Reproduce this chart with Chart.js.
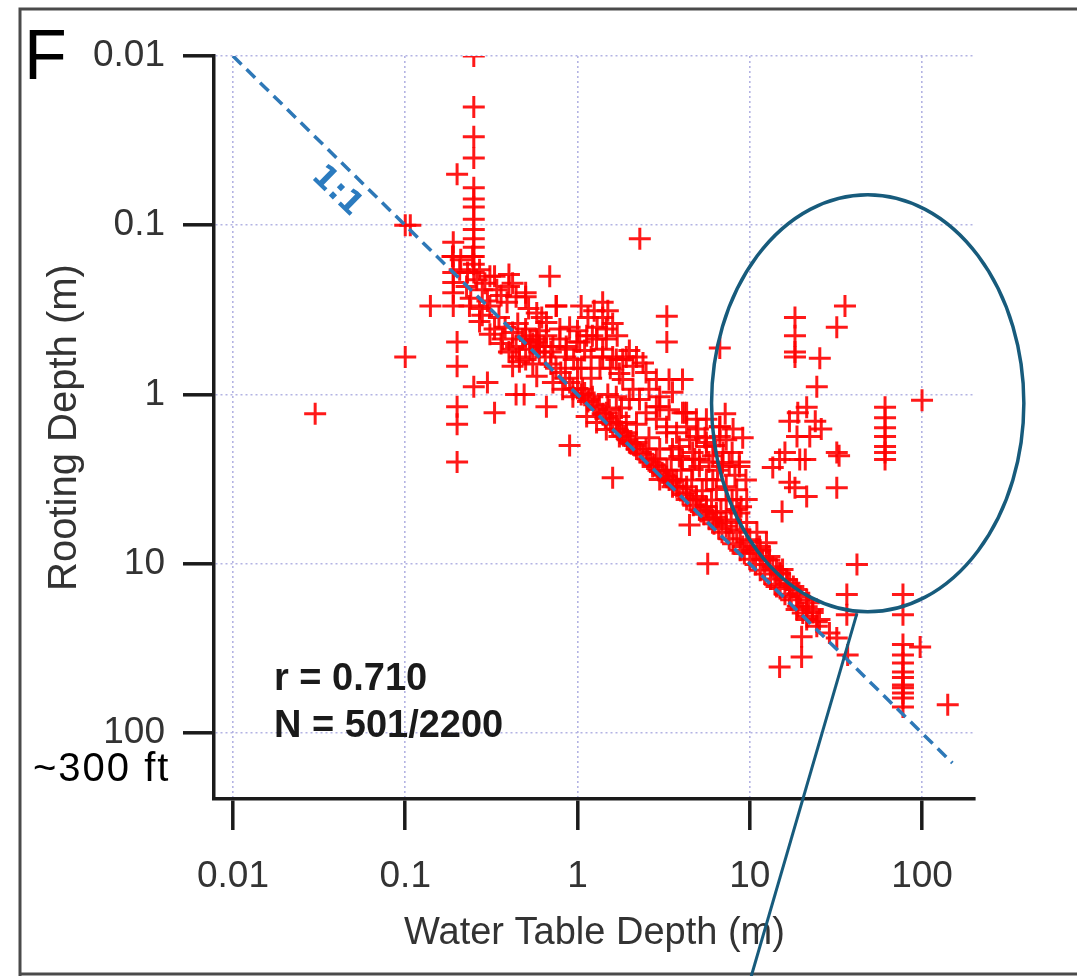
<!DOCTYPE html>
<html>
<head>
<meta charset="utf-8">
<title>Rooting depth vs water table depth</title>
<script src="https://cdn.jsdelivr.net/npm/chart.js@4.4.1/dist/chart.umd.min.js"></script>
<style>
  html, body { margin: 0; padding: 0; background: #ffffff; }
  #wrap { width: 1077px; height: 976px; position: relative; }
</style>
</head>
<body>
<div id="wrap">
  <canvas id="rootChart" width="1077" height="976"></canvas>
</div>
<script>
// axis ranges and decade ticks (metres)
const xRange = [0.00776, 203];
const yRange = [0.01, 245];
const xTicks = [0.01, 0.1, 1, 10, 100];
const yTicks = [0.01, 0.1, 1, 10, 100];

// 1:1 reference line
const oneToOne = [[0.01, 0.01], [150, 150]];
const ratioLabelAt = [0.05, 0.05];

// [water table depth, rooting depth] pairs
const shallowStrings = [
  [0.25, 0.01], [0.25, 0.02], [0.25, 0.03], [0.25, 0.04], [0.2, 0.05],
  [0.25, 0.06], [0.25, 0.07], [0.25, 0.078], [0.25, 0.092], [0.25, 0.106],
  [0.25, 0.12], [0.25, 0.135], [0.25, 0.153], [0.25, 0.17], [0.25, 0.19],
  [0.19, 0.126], [0.19, 0.153], [0.19, 0.19], [0.19, 0.25], [0.19, 0.3],
  [0.2, 0.49], [0.2, 0.68], [0.2, 1.18], [0.2, 1.5], [0.2, 2.5],
  [0.1, 0.1], [0.107, 0.1], [0.1, 0.6], [0.03, 1.3], [0.14, 0.3],
  [0.25, 0.9], [0.3, 0.85], [0.33, 1.28], [0.44, 1.0], [0.49, 1.0],
  [0.66, 1.18], [0.9, 2.0], [1.6, 3.1], [0.4, 0.195], [0.69, 0.2],
  [0.75, 0.3], [2.3, 0.12], [5.7, 10], [3.3, 0.345], [3.3, 0.49],
  [6.7, 0.53], [1.4, 0.285], [1.4, 0.35], [1.47, 0.41],
];

const aboveLine = [
  [0.188, 0.153], [0.246, 0.153], [0.207, 0.183], [0.27, 0.183], [0.31, 0.2],
  [0.19, 0.218], [0.227, 0.23], [0.28, 0.24], [0.34, 0.24], [0.4, 0.23],
  [0.236, 0.3], [0.27, 0.31], [0.31, 0.3], [0.39, 0.285], [0.44, 0.264],
  [0.5, 0.264], [0.42, 0.22], [0.5, 0.25], [0.27, 0.37], [0.33, 0.41],
  [0.42, 0.43], [0.5, 0.41], [0.58, 0.47], [0.4, 0.56], [0.46, 0.64],
  [0.5, 0.62], [0.42, 0.68], [0.55, 0.66], [0.62, 0.35], [0.58, 0.33],
  [0.52, 0.31], [0.367, 0.47], [0.42, 0.54], [0.46, 0.6], [0.53, 0.54],
  [0.58, 0.49], [0.66, 0.45], [0.79, 0.47], [0.86, 0.54], [0.99, 0.49],
  [1.13, 0.45], [1.29, 0.47], [1.4, 0.54], [1.6, 0.6], [1.83, 0.62],
  [2.1, 0.68], [0.755, 0.3], [0.66, 0.375], [0.79, 0.41], [0.6, 0.52],
  [0.72, 0.52], [0.86, 0.52], [1.03, 0.49], [1.22, 0.45], [1.47, 0.47],
  [1.4, 0.6], [1.68, 0.62], [1.92, 0.6], [2.5, 0.74], [2.87, 0.815],
  [3.4, 0.815], [4.07, 0.815], [2.6, 0.93], [3.0, 1.03], [3.56, 0.97],
  [1.83, 0.815], [2.1, 0.93], [2.29, 1.07], [2.5, 1.28], [2.87, 1.4],
  [3.29, 1.55], [3.76, 1.68], [4.3, 1.55], [4.9, 1.77], [5.6, 2.03],
  [6.1, 2.3], [4.66, 2.2], [5.1, 2.66], [3.9, 2.03], [3.4, 1.23],
  [3.0, 1.18], [4.3, 1.28], [5.6, 1.4], [6.7, 1.55], [7.3, 1.85],
  [7.9, 2.2], [8.7, 2.66], [6.9, 2.66], [6.1, 3.2], [7.3, 3.5],
  [2.87, 1.18], [4.07, 1.28], [4.9, 1.4], [3.29, 1.68], [4.47, 1.85],
  [5.6, 1.92], [6.7, 1.77], [3.9, 2.32], [5.1, 2.42], [6.95, 2.52],
  [9.1, 1.8], [8.7, 2.5], [8.4, 3.65], [4.19, 1.28], [6.7, 1.55],
  [0.21, 0.16], [0.23, 0.19], [0.26, 0.21], [0.29, 0.22], [0.33, 0.2],
  [0.36, 0.26], [0.3, 0.28], [0.24, 0.27], [0.28, 0.34], [0.35, 0.35],
  [0.38, 0.4], [0.31, 0.44], [0.45, 0.38], [0.48, 0.47], [0.53, 0.48],
  [0.6, 0.42], [0.64, 0.52], [0.7, 0.56], [0.36, 0.5], [0.44, 0.52],
  [1.05, 0.3], [1.15, 0.35], [1.25, 0.32], [1.3, 0.4], [1.5, 0.32],
  [1.6, 0.38], [1.7, 0.45], [1.2, 0.6], [1.35, 0.7], [1.55, 0.7],
  [1.75, 0.75], [2.0, 0.55], [2.2, 0.6], [2.4, 0.65], [0.9, 0.4],
  [1.0, 0.42], [1.1, 0.55], [0.95, 0.62], [1.05, 0.7], [0.85, 0.6],
  [5.0, 1.6], [5.5, 1.8], [6.2, 2.0], [7.0, 2.2], [7.6, 2.6],
  [8.2, 3.0], [6.5, 2.8], [5.8, 2.5], [4.8, 2.4], [7.9, 4.2],
  [8.9, 4.6], [9.5, 3.2], [8.0, 1.6], [7.2, 1.3],
];

const alongLine = [
  [0.58, 0.78], [0.72, 0.85], [0.82, 0.93], [0.94, 1.03], [1.07, 0.93],
  [1.22, 1.03], [1.34, 1.18], [1.53, 1.23], [1.75, 1.35], [1.92, 1.46],
  [1.68, 1.03], [2.0, 1.07], [1.47, 1.61], [1.75, 1.77], [2.0, 1.92],
  [2.2, 2.1], [1.13, 1.35], [1.29, 1.46], [0.94, 0.93], [1.17, 1.07],
  [1.47, 1.28], [1.68, 1.46], [1.92, 1.68], [2.2, 1.92], [2.5, 2.1],
  [2.87, 2.4], [3.3, 2.8], [3.76, 3.2], [4.3, 3.5], [4.9, 4.0],
  [5.6, 4.6], [6.4, 5.3], [3.0, 3.18], [3.56, 3.5], [4.3, 4.17],
  [5.1, 4.8], [6.1, 5.5], [7.3, 6.0], [8.7, 5.0], [9.6, 4.17],
  [2.73, 2.66], [3.29, 3.05], [3.76, 3.5], [4.3, 3.8], [4.9, 4.17],
  [5.6, 4.6], [6.4, 5.0], [7.3, 5.7], [8.4, 6.5], [9.6, 7.4],
  [11.0, 8.2], [12.5, 9.4], [14.3, 10.8], [16.4, 12.4], [18.7, 14.2],
  [21.4, 16.3], [23.2, 18.6], [3.56, 2.1], [4.07, 2.42], [4.66, 2.77],
  [5.6, 3.18], [6.4, 3.64], [7.3, 4.17], [8.4, 4.78], [9.6, 5.7],
  [11.0, 6.5], [12.5, 7.5], [4.47, 5.9], [9.1, 7.9], [10.4, 8.6],
  [11.9, 9.45], [13.6, 10.4], [14.9, 11.3], [16.4, 12.4], [17.9, 13.6],
  [19.6, 15.6], [21.4, 17.9], [23.2, 19.4], [25.4, 21.3], [11.4, 7.9],
  [13.0, 9.05], [15.5, 10.8], [14.3, 13.6], [17.0, 15.6], [18.7, 18.6],
  [21.4, 21.3], [24.5, 23.4],
  [0.5, 0.45], [0.55, 0.5], [0.6, 0.56], [0.65, 0.6], [0.7, 0.66],
  [0.75, 0.7], [0.8, 0.74], [0.85, 0.8], [0.9, 0.85], [1.0, 0.92],
  [1.05, 1.0], [1.1, 0.98], [1.15, 1.1], [1.25, 1.15], [1.3, 1.22],
  [1.4, 1.3], [1.45, 1.38], [1.55, 1.45], [1.6, 1.5], [1.7, 1.6],
  [1.8, 1.65], [1.85, 1.75], [1.95, 1.85], [2.05, 1.95], [2.15, 2.0],
  [2.3, 2.2], [2.4, 2.25], [2.55, 2.4], [2.65, 2.5], [2.8, 2.6],
  [2.95, 2.8], [3.1, 2.9], [3.2, 3.0], [3.4, 3.2], [3.6, 3.3],
  [3.9, 3.6], [4.1, 3.9], [4.5, 4.2], [4.7, 4.5], [5.2, 4.9],
  [5.4, 5.1], [5.8, 5.4], [6.2, 5.8], [6.6, 6.2], [6.9, 6.5],
  [7.6, 7.1], [8.0, 7.6], [8.8, 8.3], [9.3, 8.7], [10.0, 9.4],
  [10.8, 10.1], [11.5, 10.9], [12.2, 11.5], [13.2, 12.3], [14.0, 13.2],
  [15.0, 14.0], [16.0, 15.1], [17.4, 16.3], [19.0, 17.8], [20.3, 19.5],
  [1.0, 0.7], [1.2, 0.8], [1.5, 1.0], [1.8, 1.2], [2.2, 1.5],
  [2.6, 1.8], [3.0, 2.1], [3.5, 2.4], [4.0, 2.8], [4.6, 3.2],
  [5.3, 3.7], [6.0, 4.2], [6.8, 4.9], [7.8, 5.5], [8.8, 6.3],
  [10, 7.2], [11.5, 8.3], [13, 9.5], [15, 11.5], [17, 13],
  [19, 15], [22, 17],
];

const ellipseGroup = [
  [18.3, 0.35], [18.3, 0.45], [18.3, 0.56], [18.3, 0.6], [35.7, 0.3],
  [32, 0.4], [25.5, 0.61], [24.5, 0.9], [100, 1.08],
  [61, 1.19], [61, 1.37], [61, 1.57], [61, 1.77], [61, 2.03], [61, 2.2], [61, 2.42],
  [21.4, 1.19], [19, 1.28], [17, 1.44], [24, 1.44], [26, 1.6],
  [18.8, 1.77], [22.3, 1.77], [16, 2.2], [19.5, 2.42], [21, 2.42],
  [32, 2.2], [33, 2.3], [13.6, 2.7], [14.9, 2.42], [17, 3.3],
  [18.3, 3.55], [21.4, 4.0], [32, 3.55], [15.4, 4.9],
];

const deepGroup = [
  [41.9, 10.1], [36.6, 15.2], [36.6, 20], [77.5, 15.2], [77.5, 20],
  [77.5, 30], [77.5, 34.5], [77.5, 38.5], [77.5, 43.5], [77.5, 47],
  [77.5, 52], [77.5, 54], [77.5, 58], [77.5, 62], [77.5, 70],
  [97.5, 31], [141, 68], [14.9, 40.7], [20, 35.5], [20, 27],
  [29, 25.6], [32, 27.4], [37, 34.5], [21.5, 20.5], [24.5, 22],
];

// highlighted region and its callout, in data units
const highlightEllipse = { xMin: 6.0, xMax: 390, yMin: 0.066, yMax: 19.2 };
const calloutLine = [[41.9, 19.6], [10.2, 2730]];

const FONT = '"Liberation Sans", Arial, Helvetica, sans-serif';
const toPoints = (pairs) => pairs.map(([x, y]) => ({ x, y }));

const annotationLayer = {
  id: "annotationLayer",
  afterDraw(chart) {
    const { ctx } = chart;
    const xs = chart.scales.x;
    const ys = chart.scales.y;
    const px = (v) => xs.getPixelForValue(v);
    const py = (v) => ys.getPixelForValue(v);

    ctx.save();

    // page frame
    ctx.strokeStyle = "#4a4a4a";
    ctx.lineWidth = 3;
    ctx.beginPath();
    ctx.moveTo(20, 976);
    ctx.lineTo(20, 9);
    ctx.lineTo(1077, 9);
    ctx.stroke();
    ctx.beginPath();
    ctx.moveTo(20, 974);
    ctx.lineTo(1077, 974);
    ctx.stroke();

    // 1:1 label along the dashed line
    const [a, b] = oneToOne;
    const ang = Math.atan2(py(b[1]) - py(a[1]), px(b[0]) - px(a[0]));
    const off = 24;
    ctx.save();
    ctx.translate(px(ratioLabelAt[0]) - Math.sin(ang) * off, py(ratioLabelAt[1]) + Math.cos(ang) * off);
    ctx.rotate(ang);
    ctx.fillStyle = "#2b7bbf";
    ctx.font = 'bold 32px "DejaVu Sans", sans-serif';
    ctx.textAlign = "center";
    ctx.textBaseline = "middle";
    ctx.fillText("1:1", 0, 0);
    ctx.restore();

    // ellipse around the deep-rooted outliers
    const ex1 = px(highlightEllipse.xMin), ex2 = px(highlightEllipse.xMax);
    const ey1 = py(highlightEllipse.yMin), ey2 = py(highlightEllipse.yMax);
    ctx.strokeStyle = "#175b7c";
    ctx.lineWidth = 3.5;
    ctx.beginPath();
    ctx.ellipse((ex1 + ex2) / 2, (ey1 + ey2) / 2, (ex2 - ex1) / 2, (ey2 - ey1) / 2, 0, 0, Math.PI * 2);
    ctx.stroke();

    ctx.lineWidth = 3;
    ctx.beginPath();
    ctx.moveTo(px(calloutLine[0][0]), py(calloutLine[0][1]));
    ctx.lineTo(px(calloutLine[1][0]), py(calloutLine[1][1]));
    ctx.stroke();

    // panel letter and stats
    ctx.fillStyle = "#000000";
    ctx.textAlign = "left";
    ctx.textBaseline = "alphabetic";
    ctx.font = `70px ${FONT}`;
    ctx.fillText("F", 24, 79);

    ctx.fillStyle = "#1a1a1a";
    ctx.font = `bold 38px ${FONT}`;
    ctx.fillText("r = 0.710", 274, 690);
    ctx.fillText("N = 501/2200", 274, 737);

    ctx.fillStyle = "#000000";
    ctx.font = `40px ${FONT}`;
    ctx.letterSpacing = "2px";
    ctx.fillText("~300 ft", 33, 781);
    ctx.letterSpacing = "0px";

    ctx.restore();
  },
};

const gridStyle = {
  color: "rgba(175, 175, 225, 0.95)",
  lineWidth: 1.6,
  drawTicks: true,
  tickLength: 31,
  tickWidth: 3.5,
  tickColor: "#1a1a1a",
};
const borderStyle = { display: true, color: "#1a1a1a", width: 3.5, dash: [2, 3] };
const tickFont = { family: FONT, size: 37, lineHeight: 1.2 };

new Chart(document.getElementById("rootChart"), {
  type: "scatter",
  data: {
    datasets: [
      {
        type: "line",
        label: "1:1",
        data: toPoints(oneToOne),
        borderColor: "#2e78b7",
        borderWidth: 3.5,
        borderDash: [12, 7],
        pointRadius: 0,
        fill: false,
        tension: 0,
      },
      {
        label: "Rooting depth",
        data: toPoints([...shallowStrings, ...aboveLine, ...alongLine, ...ellipseGroup, ...deepGroup]),
        pointStyle: "cross",
        pointRadius: 11,
        borderColor: "rgba(255, 0, 0, 0.9)",
        backgroundColor: "rgba(255, 0, 0, 0.9)",
        borderWidth: 3,
      },
    ],
  },
  options: {
    responsive: false,
    devicePixelRatio: 1,
    animation: false,
    events: [],
    layout: { padding: { left: 0, top: 56, right: 102, bottom: 0 } },
    plugins: {
      legend: { display: false },
      tooltip: { enabled: false },
    },
    scales: {
      x: {
        type: "logarithmic",
        position: "bottom",
        min: xRange[0],
        max: xRange[1],
        afterBuildTicks: (scale) => {
          scale.ticks = xTicks.map((value) => ({ value }));
        },
        afterFit: (scale) => {
          scale.height = 177;
        },
        ticks: {
          autoSkip: false,
          maxRotation: 0,
          padding: 25,
          color: "#333333",
          font: tickFont,
          callback: (v) => String(v),
        },
        grid: gridStyle,
        border: borderStyle,
        title: {
          display: true,
          text: "Water Table Depth (m)",
          color: "#333333",
          font: { family: FONT, size: 38, lineHeight: 1 },
          padding: { top: 0, bottom: 23 },
        },
      },
      y: {
        type: "logarithmic",
        reverse: true,
        min: yRange[0],
        max: yRange[1],
        afterBuildTicks: (scale) => {
          scale.ticks = yTicks.map((value) => ({ value }));
        },
        afterFit: (scale) => {
          scale.width = 214;
        },
        ticks: {
          autoSkip: false,
          padding: 18,
          color: "#333333",
          font: tickFont,
          callback: (v) => String(v),
        },
        grid: gridStyle,
        border: borderStyle,
        title: {
          display: true,
          text: "Rooting Depth (m)",
          color: "#333333",
          font: { family: FONT, size: 40, lineHeight: 1 },
          padding: { top: 45, bottom: 0 },
        },
      },
    },
  },
  plugins: [annotationLayer],
});
</script>
</body>
</html>
